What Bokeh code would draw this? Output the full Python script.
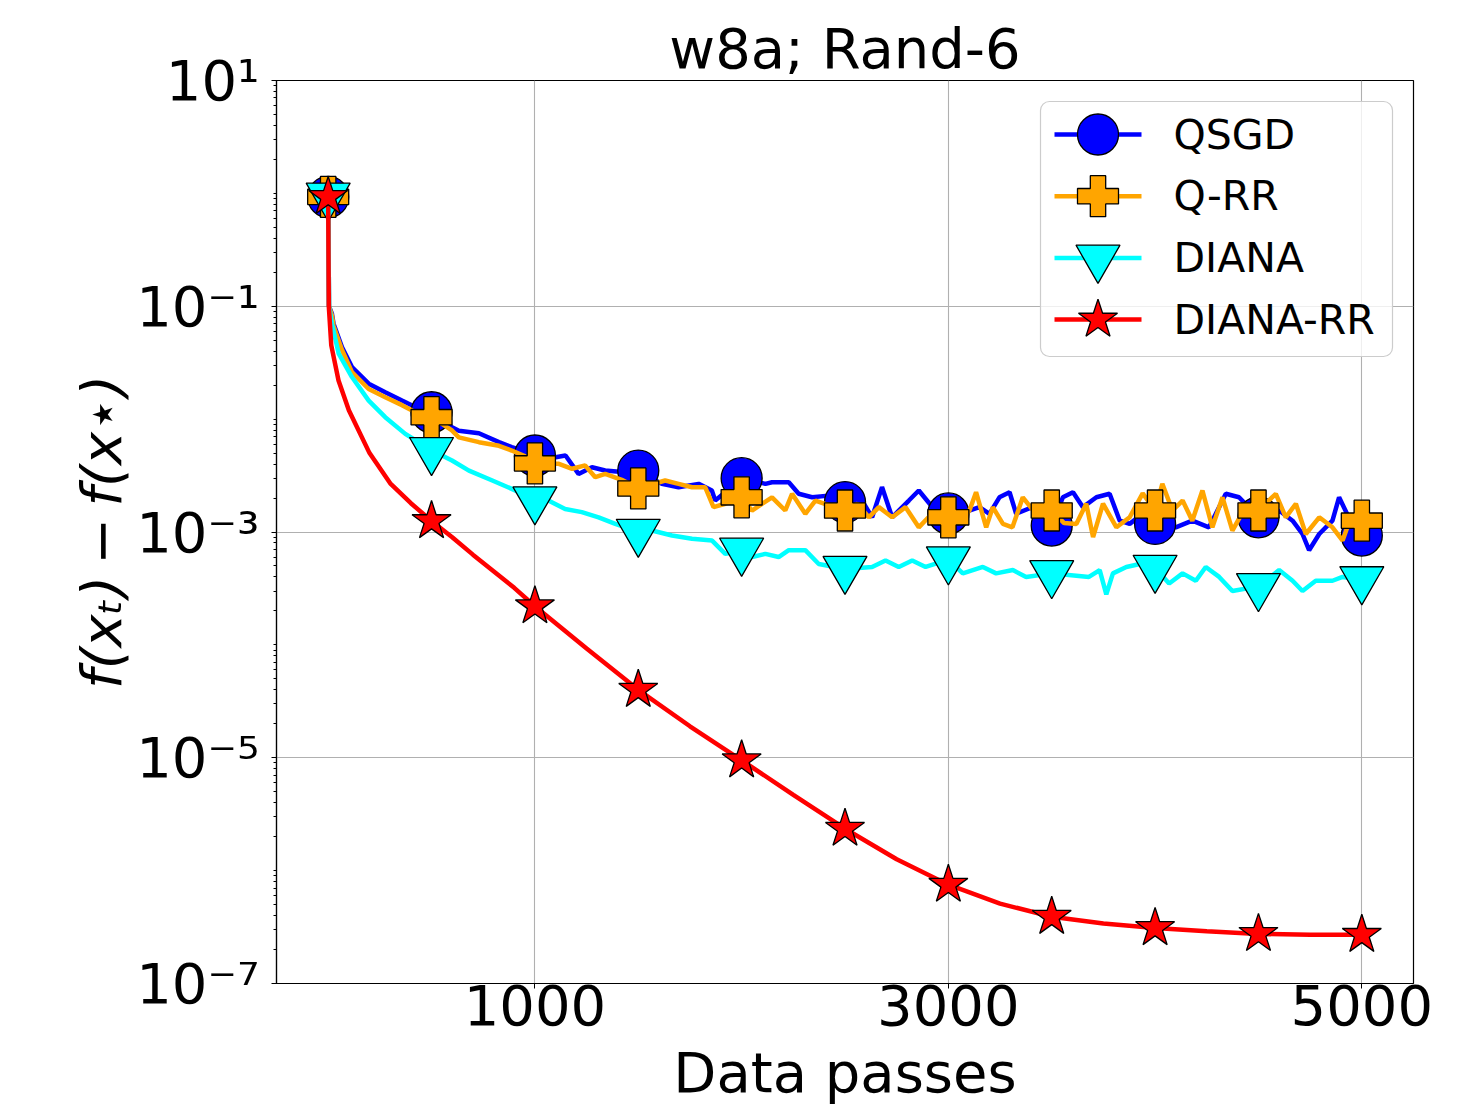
from bokeh.plotting import figure
from bokeh.models import Range1d, FixedTicker, CustomJSTickFormatter, LinearScale
from bokeh.embed import file_html
from bokeh.resources import INLINE
from bokeh.core.properties import value

# ---------------- data ----------------
TITLE = "w8a; Rand-6"
X_LABEL = "Data passes"
Y_LABEL = "f(xₜ)\u2009−\u2009f(x⋆)"
X_TICKS = [1000, 3000, 5000]
Y_TICKS = [1e1, 1e-1, 1e-3, 1e-5, 1e-7]
MARKER_X = [0, 500, 1000, 1500, 2000, 2500, 3000, 3500, 4000, 4500, 5000]

NAMES = ["QSGD", "Q-RR", "DIANA", "DIANA-RR"]

qsgd_x = [0, 4, 18, 26, 67, 115, 196, 276, 357, 406, 500, 597, 632, 729, 826, 888, 950, 1000,
          1100, 1148, 1211, 1276, 1340, 1420, 1500, 1614, 1695, 1792, 1856, 1872, 1940, 2000,
          2115, 2147, 2228, 2276, 2341, 2420, 2500, 2582, 2631, 2679, 2728, 2809, 2857, 2930, 3000,
          3080, 3150, 3199, 3247, 3296, 3328, 3420, 3500, 3554, 3603, 3651, 3716, 3780, 3829, 3877,
          3950, 4000, 4100, 4180, 4261, 4342, 4406, 4500, 4600, 4665, 4713, 4745, 4794, 4858, 4890,
          4950, 5000]
qsgd_y = [0.93, 0.1, 0.086, 0.070, 0.0434, 0.0289, 0.0206, 0.0173, 0.0146, 0.0132, 0.0115, 0.0085,
          0.0079, 0.0075, 0.00625, 0.00564, 0.0052, 0.00476,
          0.0046, 0.00476, 0.00327, 0.00375, 0.00351, 0.0034, 0.0035, 0.00267, 0.00249, 0.00267,
          0.00233, 0.0019, 0.0024, 0.0030,
          0.00267, 0.00276, 0.00276, 0.00218, 0.00203, 0.0021, 0.00184, 0.0019, 0.00135, 0.0025,
          0.00135, 0.0019, 0.00233, 0.0016, 0.00146,
          0.0015, 0.00166, 0.00145, 0.00203, 0.00225, 0.00145, 0.0017, 0.00114, 0.00203, 0.00225,
          0.00166, 0.00203, 0.00218, 0.00126, 0.00118,
          0.0015, 0.00118, 0.0011, 0.00126, 0.0011, 0.00218, 0.00203, 0.00135, 0.00155, 0.00126,
          0.00096, 0.00069, 0.00096, 0.00126, 0.00203,
          0.0012, 0.00093]

qrr_x = [0, 4, 18, 26, 67, 115, 196, 276, 357, 406, 500, 597, 632, 729, 826, 888, 950, 1000,
         1116, 1180, 1243, 1292, 1340, 1420, 1500, 1630, 1695, 1760, 1824, 1864, 1921, 2000,
         2050, 2147, 2211, 2244, 2308, 2357, 2430, 2500, 2560, 2615, 2664, 2728, 2793, 2857, 2920,
         3000, 3050, 3102, 3134, 3183, 3215, 3264, 3310, 3360, 3430, 3500, 3560, 3619, 3667, 3700,
         3748, 3813, 3877, 3940, 4000, 4035, 4084, 4133, 4180, 4229, 4277, 4326, 4374, 4440, 4500,
         4584, 4632, 4681, 4729, 4794, 4858, 4907, 4950, 5000]
qrr_y = [0.93, 0.1, 0.083, 0.067, 0.041, 0.0261, 0.0185, 0.0156, 0.0133, 0.0119, 0.0104, 0.0080,
         0.0069, 0.00625, 0.0058, 0.00527, 0.0047, 0.00405,
         0.00402, 0.00363, 0.00389, 0.00306, 0.00327, 0.0029, 0.00243, 0.00286, 0.00267, 0.00249,
         0.00249, 0.00166, 0.00178, 0.00203,
         0.00155, 0.00203, 0.00155, 0.00218, 0.00145, 0.0019, 0.0017, 0.00155, 0.00178, 0.00135,
         0.00166, 0.00135, 0.00166, 0.0011, 0.00145,
         0.00135, 0.0012, 0.00155, 0.00225, 0.0011, 0.00166, 0.00118, 0.0011, 0.00203, 0.0014,
         0.00155, 0.0012, 0.00118, 0.00178, 0.0009,
         0.00178, 0.0011, 0.00135, 0.0022, 0.00155, 0.00267, 0.00155, 0.0019, 0.00126, 0.00233,
         0.0011, 0.00203, 0.00103, 0.0017, 0.00155,
         0.00218, 0.00135, 0.00178, 0.00096, 0.00135, 0.0011, 0.00084, 0.0014, 0.00126]

diana_x = [0, 4, 18, 51, 115, 196, 276, 373, 500, 599, 681, 794, 888, 1000,
           1065, 1146, 1227, 1308, 1389, 1500, 1566, 1663, 1760, 1857, 1921, 2000,
           2050, 2115, 2179, 2228, 2308, 2373, 2500, 2631, 2696, 2760, 2825, 2890, 3000,
           3070, 3167, 3231, 3312, 3376, 3500, 3619, 3680, 3732, 3764, 3796, 3861, 3926, 4000,
           4068, 4133, 4197, 4245, 4310, 4374, 4500, 4600, 4665, 4713, 4777, 4858, 4907, 5000]
diana_y = [0.95, 0.1, 0.07, 0.038, 0.0236, 0.0146, 0.0104, 0.0074, 0.0053, 0.0043, 0.0035, 0.00286,
           0.00241, 0.00194,
           0.0019, 0.0016, 0.0015, 0.00135, 0.00118, 0.0010, 0.00103, 0.00093, 0.00087, 0.00084,
           0.00064, 0.00068,
           0.0006, 0.00064, 0.0006, 0.00069, 0.00069, 0.00052, 0.00047, 0.00049, 0.00056, 0.00049,
           0.00056, 0.00049, 0.00057,
           0.00043, 0.00049, 0.00043, 0.00046, 0.0004, 0.00043, 0.00041, 0.0004, 0.00046, 0.00028,
           0.00043, 0.00049, 0.00052, 0.00048,
           0.00035, 0.00043, 0.00037, 0.00049, 0.0004, 0.0003, 0.00033, 0.00046, 0.00037, 0.0003,
           0.00037, 0.00037, 0.0004, 0.00038]

dianarr_x = [0, 3, 15, 50, 100, 200, 300, 400, 500, 600, 700, 800, 900, 1000, 1250, 1500, 1750,
             2000, 2250, 2500, 2750, 3000, 3250, 3500, 3750, 4000, 4250, 4500, 4750, 5000]
dianarr_y = [0.93, 0.1, 0.045, 0.022, 0.012, 0.005, 0.0027, 0.0018, 0.00125, 0.0009, 0.00063,
             0.00045, 0.00032, 0.00022, 9.3e-5, 4.0e-5, 1.9e-5, 9.5e-6, 4.7e-6, 2.35e-6, 1.26e-6,
             7.5e-7, 5.1e-7, 3.9e-7, 3.4e-7, 3.1e-7, 2.9e-7, 2.75e-7, 2.7e-7, 2.7e-7]

# ---------------- style ----------------
FONT = "DejaVu Sans"
COLORS = ["#0000ff", "#ffa500", "#00ffff", "#ff0000"]
MARKERS = ["circle", "plus", "inverted_triangle", "star"]
MSIZES = [41, 41, 44, 41]
LINE_W = 4.5

FRAME_W, FRAME_H = 1137, 903

p = figure(frame_width=FRAME_W, frame_height=FRAME_H,
           x_range=Range1d(-250, 5250), y_range=Range1d(1e-7, 1e1),
           y_axis_type="log", output_backend="svg", toolbar_location=None,
           min_border_left=276, min_border_right=50, min_border_top=80, min_border_bottom=122)

p.background_fill_color = "white"
p.border_fill_color = "white"
p.outline_line_color = "black"
p.outline_line_width = 1.2

p.title.text = TITLE
p.title.align = "center"
p.title.text_font = FONT
p.title.text_font_size = "56px"
p.title.text_font_style = "normal"
p.title.text_color = "black"
p.title.standoff = 0

minor = []
for k in range(-7, 1):
    for m in range(1, 10):
        v = m * 10.0 ** k
        if m == 1 and k % 2 != 0:
            continue
        minor.append(v)

p.xaxis.ticker = FixedTicker(ticks=X_TICKS, minor_ticks=[])
p.yaxis.ticker = FixedTicker(ticks=Y_TICKS, minor_ticks=minor)
p.yaxis.formatter = CustomJSTickFormatter(code="""
const sup = {"-": "\u207b", "0": "\u2070", "1": "\u00b9", "2": "\u00b2", "3": "\u00b3",
             "4": "\u2074", "5": "\u2075", "6": "\u2076", "7": "\u2077", "8": "\u2078", "9": "\u2079"};
const e = Math.round(Math.log10(tick));
return "10" + String(e).split("").map(c => sup[c]).join("");
""")

for ax in (p.xaxis[0], p.yaxis[0]):
    ax.axis_line_color = "black"
    ax.axis_line_width = 1.2
    ax.major_tick_line_color = "black"
    ax.minor_tick_line_color = "black"
    ax.major_tick_out = 5
    ax.major_tick_in = 0
    ax.minor_tick_out = 3
    ax.minor_tick_in = 0
    ax.major_label_text_font = FONT
    ax.major_label_text_font_size = "56px"
    ax.major_label_text_color = "black"
    ax.axis_label_text_font = FONT
    ax.axis_label_text_font_size = "56px"
    ax.axis_label_text_color = "black"

p.xaxis.axis_label = X_LABEL
p.xaxis.axis_label_text_font_style = "normal"
p.xaxis.major_label_standoff = -4
p.xaxis.axis_label_standoff = 12

p.yaxis.axis_label = Y_LABEL
p.yaxis.axis_label_text_font_style = "italic"
p.yaxis.major_label_standoff = 12
p.yaxis.axis_label_standoff = -1

p.grid.grid_line_color = "#b0b0b0"
p.grid.grid_line_width = 1.1
p.grid.minor_grid_line_color = None

# ---------------- series ----------------
series = [(qsgd_x, qsgd_y), (qrr_x, qrr_y), (diana_x, diana_y), (dianarr_x, dianarr_y)]
for (xs, ys), color, marker, ms in zip(series, COLORS, MARKERS, MSIZES):
    p.line(xs, ys, line_color=color, line_width=LINE_W)
    lookup = dict(zip(xs, ys))
    p.scatter(MARKER_X, [lookup[x] for x in MARKER_X], marker=marker, size=ms,
              fill_color=color, line_color="black", line_width=1.3)

# ---------------- legend (drawn in frame-pixel coordinates) ----------------
p.extra_x_ranges = {"px": Range1d(0, FRAME_W)}
p.extra_y_ranges = {"py": Range1d(0, FRAME_H)}
p.extra_x_scales = {"px": LinearScale()}
p.extra_y_scales = {"py": LinearScale()}

LEG_LEFT, LEG_RIGHT, LEG_TOP, LEG_BOTTOM = 764, 1116, 882, 627
ROW0, ROW_PITCH = 849, 61.7
LINE_X0, LINE_X1, TEXT_X = 778, 865, 897
rows = [ROW0 - i * ROW_PITCH for i in range(len(NAMES))]

p.quad(left=[LEG_LEFT], right=[LEG_RIGHT], top=[LEG_TOP], bottom=[LEG_BOTTOM],
       fill_color="white", fill_alpha=0.8, line_color="#cccccc", line_width=1.2,
       border_radius=9, x_range_name="px", y_range_name="py")
p.segment(x0=[LINE_X0] * 4, x1=[LINE_X1] * 4, y0=rows, y1=rows, line_color=COLORS,
          line_width=LINE_W, x_range_name="px", y_range_name="py")
p.scatter(x=[(LINE_X0 + LINE_X1) / 2] * 4, y=rows, marker=MARKERS, size=MSIZES,
          fill_color=COLORS, line_color="black", line_width=1.3,
          x_range_name="px", y_range_name="py")
p.text(x=[TEXT_X] * 4, y=rows, text=NAMES, text_font=value(FONT), text_font_size="41px",
       text_baseline="middle", text_align="left", text_color="black",
       x_range_name="px", y_range_name="py")

open("out.html", "w").write(file_html(p, INLINE))
